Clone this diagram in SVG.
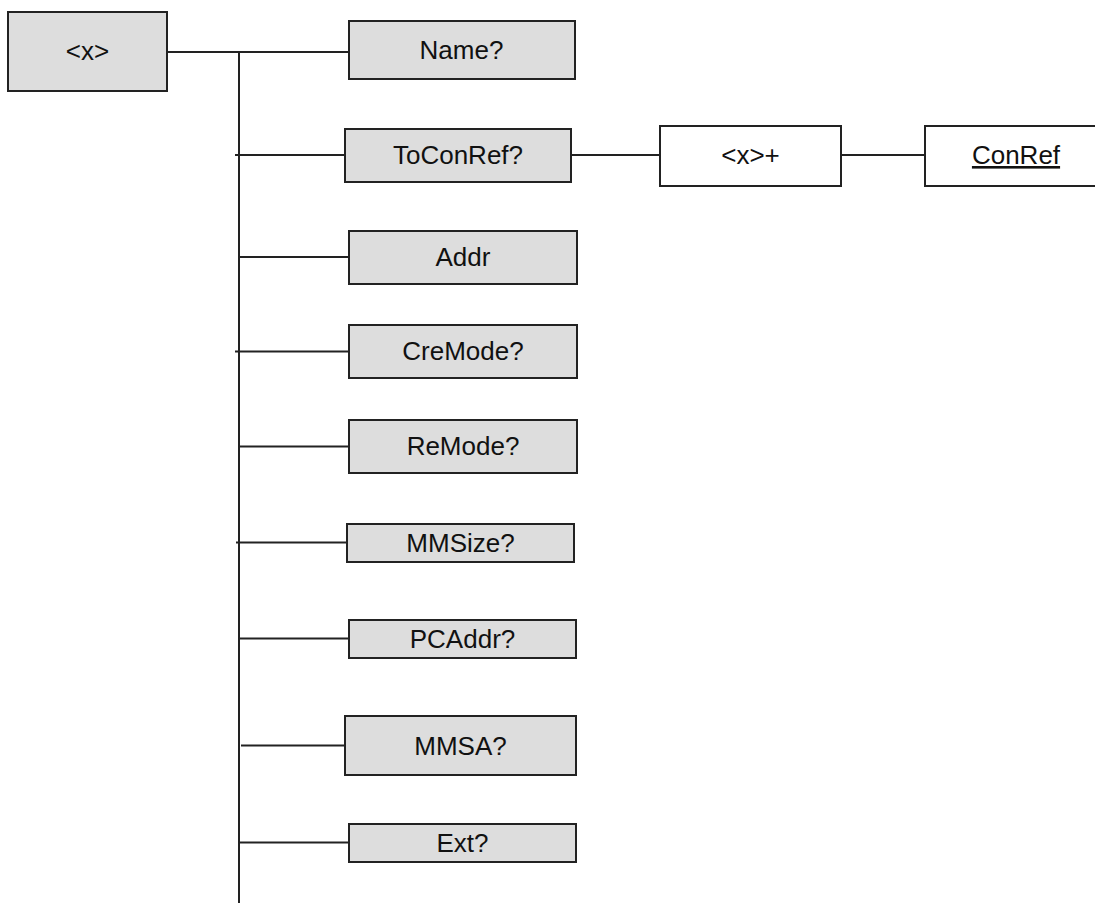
<svg xmlns="http://www.w3.org/2000/svg" width="1095" height="903" viewBox="0 0 1095 903">
<style>
.b{fill:#dddddd;stroke:#222;stroke-width:2}
.w{fill:#ffffff;stroke:#222;stroke-width:2}
.c{stroke:#222;stroke-width:2;fill:none}
text{font-family:"Liberation Sans",Arial,sans-serif;font-size:26px;fill:#111;text-anchor:middle}
</style>
<rect width="1095" height="903" fill="#fff"/>
<g id="connectors">
<line class="c" x1="167" y1="52" x2="349" y2="52"/>
<line class="c" x1="239" y1="52" x2="239" y2="903"/>
<line class="c" x1="235" y1="155" x2="345" y2="155"/>
<line class="c" x1="571" y1="155" x2="660" y2="155"/>
<line class="c" x1="838" y1="155" x2="925" y2="155"/>
<line class="c" x1="239" y1="257" x2="349" y2="257"/>
<line class="c" x1="235" y1="351.5" x2="349" y2="351.5"/>
<line class="c" x1="239" y1="446.5" x2="349" y2="446.5"/>
<line class="c" x1="236" y1="542.5" x2="347" y2="542.5"/>
<line class="c" x1="239" y1="638.5" x2="349" y2="638.5"/>
<line class="c" x1="241" y1="745.5" x2="345" y2="745.5"/>
<line class="c" x1="239" y1="842.5" x2="349" y2="842.5"/>
</g>
<g id="root"><rect class="b" x="8" y="12" width="159" height="79"/><text x="87.5" y="60">&lt;x&gt;</text></g>
<g id="name"><rect class="b" x="349" y="21" width="226" height="58"/><text x="461.5" y="58.5">Name?</text></g>
<g id="toconref"><rect class="b" x="345" y="129" width="226" height="53"/><text x="458" y="164">ToConRef?</text></g>
<g id="xplus"><rect class="w" x="660" y="126" width="181" height="60"/><text x="750.5" y="164">&lt;x&gt;+</text></g>
<g id="conref"><rect class="w" x="925" y="126" width="182" height="60"/><text x="1016" y="164" text-decoration="underline">ConRef</text></g>
<g id="addr"><rect class="b" x="349" y="231" width="228" height="53"/><text x="463" y="266">Addr</text></g>
<g id="cremode"><rect class="b" x="349" y="325" width="228" height="53"/><text x="463" y="360">CreMode?</text></g>
<g id="remode"><rect class="b" x="349" y="420" width="228" height="53"/><text x="463" y="455">ReMode?</text></g>
<g id="mmsize"><rect class="b" x="347" y="524" width="227" height="38"/><text x="460.5" y="552">MMSize?</text></g>
<g id="pcaddr"><rect class="b" x="349" y="620" width="227" height="38"/><text x="462.5" y="648">PCAddr?</text></g>
<g id="mmsa"><rect class="b" x="345" y="716" width="231" height="59"/><text x="460.5" y="755">MMSA?</text></g>
<g id="ext"><rect class="b" x="349" y="824" width="227" height="38"/><text x="462.5" y="852">Ext?</text></g>
</svg>
